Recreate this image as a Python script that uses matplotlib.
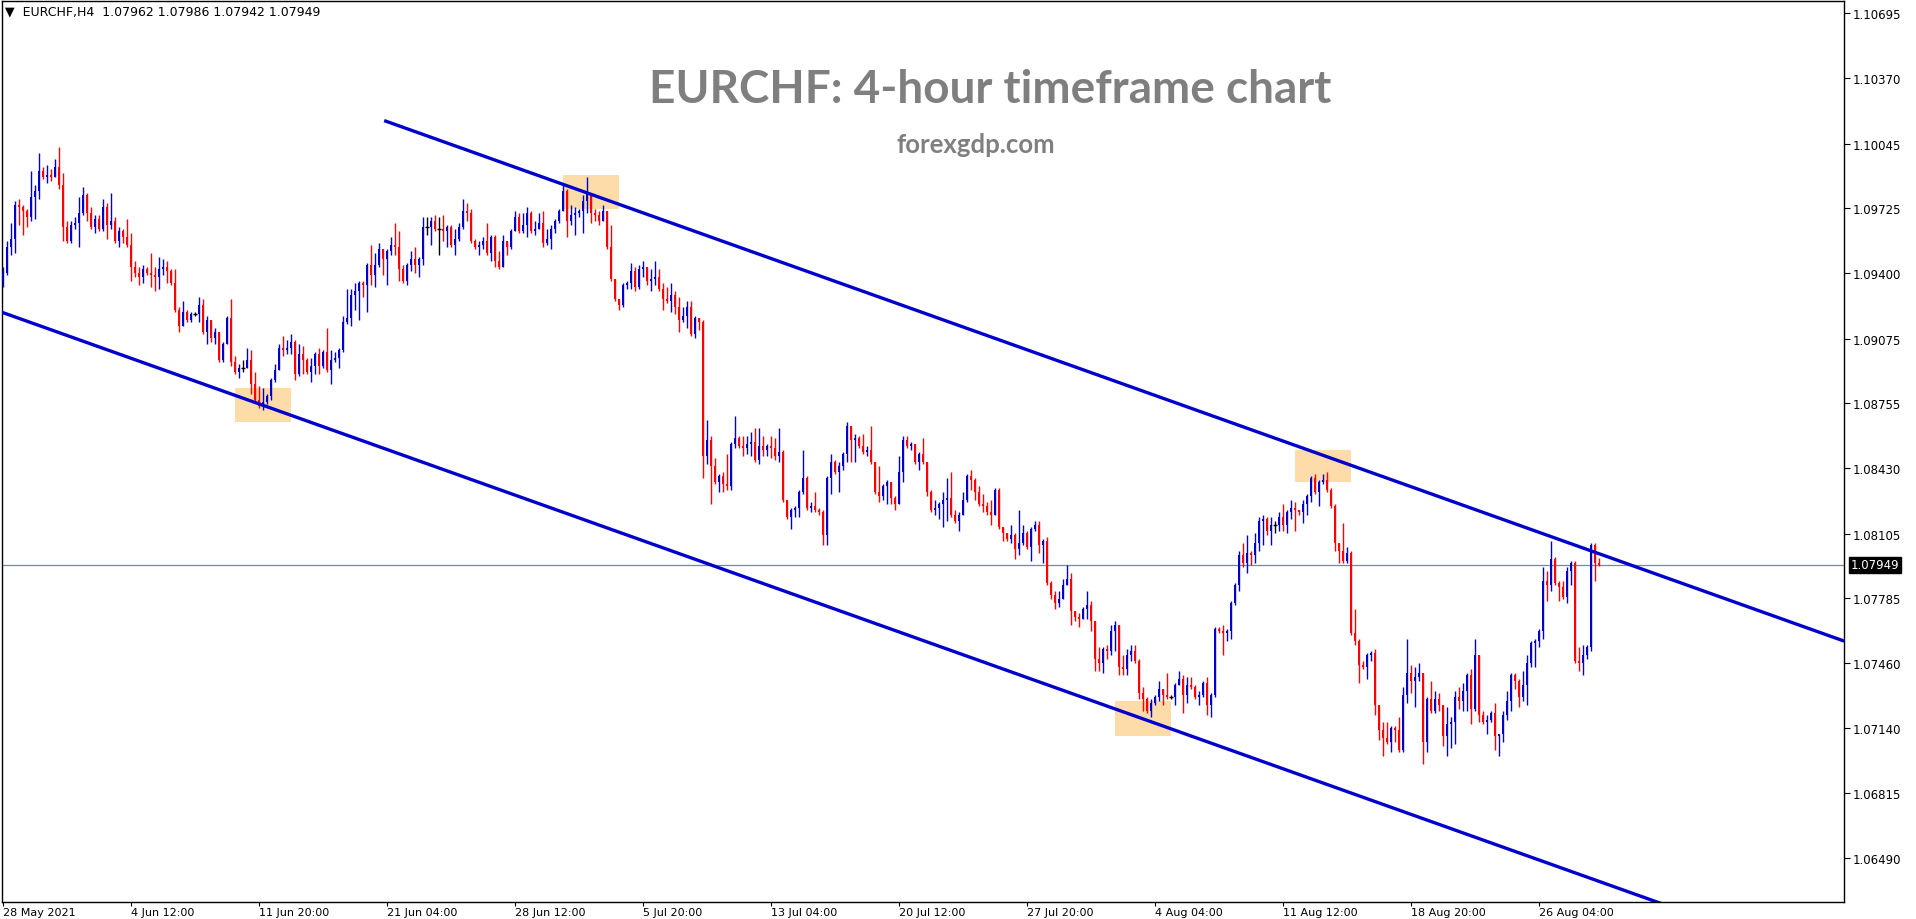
import matplotlib
matplotlib.use("Agg")
import matplotlib.pyplot as plt
import numpy as np

# EURCHF H4 candles, 28 May 2021 -> 27 Aug 2021
first_open = 1.0936

close = [
    1.0940, 1.0953, 1.0957, 1.0974, 1.0973, 1.0971, 1.0968, 1.0978, 1.0981, 1.0991,
    1.0988, 1.0989, 1.0988, 1.0993, 1.0984, 1.0963, 1.0956, 1.0964, 1.0965, 1.0970,
    1.0979, 1.0970, 1.0963, 1.0967, 1.0962, 1.0973, 1.0964, 1.0966, 1.0956, 1.0961,
    1.0958, 1.0954, 1.0943, 1.0940, 1.0938, 1.0942, 1.0940, 1.0939, 1.0938, 1.0942,
    1.0943, 1.0941, 1.0935, 1.0922, 1.0914, 1.0921, 1.0917, 1.0920, 1.0920, 1.0924,
    1.0911, 1.0917, 1.0908, 1.0911, 1.0897, 1.0905, 1.0918, 1.0896, 1.0891, 1.0893,
    1.0893, 1.0897, 1.0885, 1.0877, 1.0874, 1.0876, 1.0879, 1.0887, 1.0892, 1.0903,
    1.0902, 1.0903, 1.0906, 1.0890, 1.0900, 1.0897, 1.0891, 1.0894, 1.0900, 1.0894,
    1.0901, 1.0892, 1.0897, 1.0898, 1.0902, 1.0916, 1.0918, 1.0929, 1.0931, 1.0935,
    1.0934, 1.0944, 1.0939, 1.0944, 1.0952, 1.0947, 1.0951, 1.0954, 1.0953, 1.0942,
    1.0936, 1.0944, 1.0947, 1.0944, 1.0947, 1.0963, 1.0963, 1.0966, 1.0962, 1.0962,
    1.0961, 1.0963, 1.0954, 1.0957, 1.0963, 1.0971, 1.0970, 1.0956, 1.0953, 1.0954,
    1.0956, 1.0950, 1.0958, 1.0946, 1.0943, 1.0956, 1.0953, 1.0961, 1.0968, 1.0961,
    1.0964, 1.0970, 1.0961, 1.0962, 1.0965, 1.0955, 1.0957, 1.0962, 1.0966, 1.0971,
    1.0981, 1.0966, 1.0969, 1.0970, 1.0971, 1.0976, 1.0980, 1.0970, 1.0969, 1.0966,
    1.0971, 1.0953, 1.0937, 1.0927, 1.0924, 1.0934, 1.0935, 1.0941, 1.0933, 1.0942,
    1.0943, 1.0936, 1.0937, 1.0938, 1.0932, 1.0927, 1.0926, 1.0929, 1.0923, 1.0917,
    1.0919, 1.0923, 1.0910, 1.0918, 1.0916, 1.0849, 1.0857, 1.0844, 1.0836, 1.0839,
    1.0835, 1.0834, 1.0855, 1.0858, 1.0854, 1.0853, 1.0855, 1.0856, 1.0847, 1.0854,
    1.0852, 1.0854, 1.0853, 1.0849, 1.0851, 1.0827, 1.0819, 1.0822, 1.0823, 1.0831,
    1.0838, 1.0823, 1.0824, 1.0822, 1.0821, 1.0810, 1.0838, 1.0846, 1.0841, 1.0844,
    1.0850, 1.0864, 1.0857, 1.0858, 1.0854, 1.0851, 1.0852, 1.0846, 1.0831, 1.0829,
    1.0834, 1.0836, 1.0828, 1.0825, 1.0841, 1.0857, 1.0854, 1.0855, 1.0846, 1.0850,
    1.0846, 1.0831, 1.0822, 1.0823, 1.0825, 1.0827, 1.0828, 1.0820, 1.0817, 1.0820,
    1.0827, 1.0839, 1.0837, 1.0831, 1.0825, 1.0824, 1.0821, 1.0820, 1.0832, 1.0814,
    1.0811, 1.0808, 1.0810, 1.0803, 1.0806, 1.0811, 1.0804, 1.0813, 1.0815, 1.0805,
    1.0807, 1.0786, 1.0780, 1.0776, 1.0778, 1.0785, 1.0788, 1.0772, 1.0769, 1.0768,
    1.0773, 1.0775, 1.0767, 1.0748, 1.0746, 1.0753, 1.0752, 1.0762, 1.0765, 1.0744,
    1.0743, 1.0750, 1.0752, 1.0747, 1.0731, 1.0728, 1.0722, 1.0726, 1.0729, 1.0733,
    1.0730, 1.0729, 1.0729, 1.0735, 1.0738, 1.0730, 1.0735, 1.0734, 1.0729, 1.0730,
    1.0736, 1.0725, 1.0730, 1.0763, 1.0762, 1.0761, 1.0762, 1.0776, 1.0785, 1.0800,
    1.0796, 1.0801, 1.0800, 1.0806, 1.0817, 1.0818, 1.0812, 1.0815, 1.0815, 1.0819,
    1.0815, 1.0821, 1.0823, 1.0822, 1.0821, 1.0825, 1.0829, 1.0838, 1.0831, 1.0836,
    1.0837, 1.0832, 1.0824, 1.0806, 1.0802, 1.0797, 1.0801, 1.0761, 1.0757, 1.0745,
    1.0744, 1.0750, 1.0751, 1.0725, 1.0713, 1.0709, 1.0707, 1.0714, 1.0713, 1.0703,
    1.0730, 1.0741, 1.0737, 1.0739, 1.0741, 1.0707, 1.0728, 1.0722, 1.0728, 1.0725,
    1.0710, 1.0716, 1.0717, 1.0729, 1.0727, 1.0732, 1.0740, 1.0723, 1.0750, 1.0720,
    1.0717, 1.0718, 1.0721, 1.0710, 1.0711, 1.0720, 1.0727, 1.0740, 1.0737, 1.0729,
    1.0735, 1.0746, 1.0756, 1.0757, 1.0762, 1.0787, 1.0785, 1.0798, 1.0786, 1.0784,
    1.0779, 1.0792, 1.0796, 1.0747, 1.0746, 1.0750, 1.0754, 1.0805, 1.0796, 1.07949,
]

high = [
    1.0943, 1.0956, 1.0965, 1.0976, 1.0977, 1.0974, 1.0972, 1.0991, 1.0984, 1.1000,
    1.0993, 1.0994, 1.0992, 1.0997, 1.1003, 1.0990, 1.0966, 1.0966, 1.0968, 1.0978,
    1.0983, 1.0980, 1.0973, 1.0969, 1.0969, 1.0977, 1.0975, 1.0980, 1.0968, 1.0963,
    1.0962, 1.0967, 1.0960, 1.0946, 1.0943, 1.0944, 1.0943, 1.0950, 1.0943, 1.0948,
    1.0947, 1.0946, 1.0942, 1.0942, 1.0923, 1.0926, 1.0922, 1.0921, 1.0921, 1.0928,
    1.0927, 1.0919, 1.0917, 1.0913, 1.0911, 1.0906, 1.0919, 1.0927, 1.0899, 1.0895,
    1.0897, 1.0903, 1.0902, 1.0891, 1.0884, 1.0883, 1.0880, 1.0888, 1.0895, 1.0905,
    1.0909, 1.0907, 1.0910, 1.0907, 1.0905, 1.0904, 1.0898, 1.0898, 1.0901, 1.0903,
    1.0902, 1.0913, 1.0902, 1.0901, 1.0903, 1.0919, 1.0932, 1.0932, 1.0935, 1.0936,
    1.0936, 1.0945, 1.0954, 1.0950, 1.0955, 1.0950, 1.0952, 1.0958, 1.0965, 1.0961,
    1.0944, 1.0945, 1.0951, 1.0953, 1.0948, 1.0968, 1.0968, 1.0968, 1.0969, 1.0968,
    1.0969, 1.0964, 1.0964, 1.0962, 1.0965, 1.0977, 1.0975, 1.0972, 1.0957, 1.0956,
    1.0958, 1.0965, 1.0959, 1.0959, 1.0951, 1.0959, 1.0954, 1.0962, 1.0971, 1.0970,
    1.0970, 1.0973, 1.0971, 1.0966, 1.0970, 1.0971, 1.0962, 1.0964, 1.0967, 1.0972,
    1.0984, 1.0982, 1.0974, 1.0973, 1.0972, 1.0979, 1.0988, 1.0979, 1.0972, 1.0971,
    1.0974, 1.0971, 1.0964, 1.0937, 1.0927, 1.0935, 1.0936, 1.0945, 1.0943, 1.0944,
    1.0946, 1.0943, 1.0942, 1.0946, 1.0942, 1.0935, 1.0933, 1.0935, 1.0931, 1.0928,
    1.0923, 1.0926, 1.0926, 1.0919, 1.0918, 1.0917, 1.0867, 1.0859, 1.0848, 1.0840,
    1.0841, 1.0850, 1.0856, 1.0869, 1.0859, 1.0859, 1.0859, 1.0861, 1.0863, 1.0863,
    1.0859, 1.0855, 1.0859, 1.0858, 1.0863, 1.0852, 1.0827, 1.0823, 1.0824, 1.0832,
    1.0852, 1.0839, 1.0826, 1.0831, 1.0823, 1.0822, 1.0839, 1.0850, 1.0847, 1.0846,
    1.0851, 1.0866, 1.0864, 1.0860, 1.0859, 1.0860, 1.0854, 1.0864, 1.0846, 1.0844,
    1.0835, 1.0837, 1.0834, 1.0829, 1.0849, 1.0859, 1.0859, 1.0856, 1.0855, 1.0851,
    1.0858, 1.0846, 1.0832, 1.0827, 1.0826, 1.0831, 1.0838, 1.0841, 1.0822, 1.0821,
    1.0831, 1.0840, 1.0842, 1.0838, 1.0834, 1.0830, 1.0826, 1.0827, 1.0833, 1.0833,
    1.0814, 1.0811, 1.0815, 1.0811, 1.0822, 1.0815, 1.0812, 1.0814, 1.0817, 1.0817,
    1.0808, 1.0809, 1.0787, 1.0782, 1.0782, 1.0788, 1.0795, 1.0791, 1.0772, 1.0771,
    1.0774, 1.0782, 1.0777, 1.0767, 1.0754, 1.0754, 1.0755, 1.0765, 1.0767, 1.0765,
    1.0750, 1.0753, 1.0755, 1.0755, 1.0748, 1.0734, 1.0729, 1.0728, 1.0730, 1.0737,
    1.0733, 1.0741, 1.0730, 1.0736, 1.0742, 1.0740, 1.0739, 1.0739, 1.0735, 1.0732,
    1.0737, 1.0739, 1.0731, 1.0764, 1.0764, 1.0765, 1.0763, 1.0777, 1.0786, 1.0802,
    1.0806, 1.0810, 1.0802, 1.0811, 1.0819, 1.0820, 1.0819, 1.0819, 1.0817, 1.0821,
    1.0825, 1.0822, 1.0827, 1.0826, 1.0822, 1.0827, 1.0830, 1.0839, 1.0840, 1.0837,
    1.0840, 1.0841, 1.0833, 1.0825, 1.0806, 1.0816, 1.0804, 1.0802, 1.0773, 1.0758,
    1.0747, 1.0751, 1.0752, 1.0753, 1.0725, 1.0717, 1.0717, 1.0715, 1.0715, 1.0719,
    1.0734, 1.0758, 1.0745, 1.0744, 1.0746, 1.0741, 1.0729, 1.0737, 1.0732, 1.0731,
    1.0725, 1.0724, 1.0719, 1.0732, 1.0734, 1.0736, 1.0741, 1.0743, 1.0758, 1.0750,
    1.0722, 1.0720, 1.0722, 1.0726, 1.0711, 1.0722, 1.0732, 1.0741, 1.0741, 1.0738,
    1.0742, 1.0750, 1.0757, 1.0758, 1.0763, 1.0794, 1.0792, 1.0807, 1.0799, 1.0787,
    1.0787, 1.0794, 1.0797, 1.0797, 1.0754, 1.0755, 1.0755, 1.0806, 1.0806, 1.07986,
]

low = [
    1.0933, 1.0939, 1.0949, 1.0950, 1.0964, 1.0959, 1.0963, 1.0966, 1.0967, 1.0977,
    1.0987, 1.0985, 1.0986, 1.0988, 1.0982, 1.0956, 1.0955, 1.0955, 1.0962, 1.0953,
    1.0969, 1.0966, 1.0962, 1.0960, 1.0961, 1.0961, 1.0957, 1.0962, 1.0955, 1.0953,
    1.0955, 1.0953, 1.0936, 1.0938, 1.0934, 1.0935, 1.0939, 1.0933, 1.0931, 1.0932,
    1.0939, 1.0935, 1.0934, 1.0921, 1.0911, 1.0914, 1.0916, 1.0916, 1.0919, 1.0916,
    1.0910, 1.0905, 1.0906, 1.0905, 1.0896, 1.0896, 1.0905, 1.0894, 1.0890, 1.0888,
    1.0891, 1.0893, 1.0880, 1.0876, 1.0873, 1.0872, 1.0875, 1.0877, 1.0886, 1.0892,
    1.0899, 1.0900, 1.0900, 1.0887, 1.0889, 1.0890, 1.0890, 1.0886, 1.0890, 1.0890,
    1.0893, 1.0891, 1.0885, 1.0896, 1.0893, 1.0901, 1.0915, 1.0914, 1.0922, 1.0917,
    1.0928, 1.0921, 1.0934, 1.0933, 1.0943, 1.0939, 1.0934, 1.0949, 1.0949, 1.0936,
    1.0935, 1.0934, 1.0941, 1.0940, 1.0938, 1.0944, 1.0959, 1.0954, 1.0961, 1.0949,
    1.0956, 1.0953, 1.0953, 1.0949, 1.0956, 1.0962, 1.0966, 1.0955, 1.0952, 1.0949,
    1.0952, 1.0949, 1.0946, 1.0943, 1.0942, 1.0946, 1.0949, 1.0952, 1.0961, 1.0960,
    1.0960, 1.0958, 1.0960, 1.0959, 1.0962, 1.0953, 1.0954, 1.0952, 1.0960, 1.0965,
    1.0971, 1.0958, 1.0964, 1.0959, 1.0968, 1.0960, 1.0970, 1.0965, 1.0966, 1.0964,
    1.0966, 1.0952, 1.0936, 1.0926, 1.0922, 1.0923, 1.0932, 1.0932, 1.0931, 1.0932,
    1.0938, 1.0934, 1.0931, 1.0934, 1.0931, 1.0922, 1.0925, 1.0921, 1.0920, 1.0911,
    1.0916, 1.0913, 1.0909, 1.0908, 1.0912, 1.0838, 1.0845, 1.0825, 1.0835, 1.0831,
    1.0831, 1.0832, 1.0832, 1.0853, 1.0853, 1.0849, 1.0850, 1.0849, 1.0846, 1.0845,
    1.0849, 1.0849, 1.0848, 1.0847, 1.0846, 1.0826, 1.0818, 1.0813, 1.0819, 1.0819,
    1.0830, 1.0822, 1.0821, 1.0821, 1.0820, 1.0805, 1.0805, 1.0830, 1.0840, 1.0831,
    1.0842, 1.0846, 1.0846, 1.0846, 1.0853, 1.0850, 1.0849, 1.0845, 1.0830, 1.0826,
    1.0827, 1.0825, 1.0825, 1.0822, 1.0825, 1.0836, 1.0853, 1.0852, 1.0845, 1.0842,
    1.0845, 1.0829, 1.0821, 1.0820, 1.0818, 1.0814, 1.0817, 1.0819, 1.0816, 1.0812,
    1.0821, 1.0826, 1.0832, 1.0827, 1.0824, 1.0821, 1.0820, 1.0815, 1.0820, 1.0813,
    1.0807, 1.0807, 1.0806, 1.0798, 1.0800, 1.0805, 1.0803, 1.0797, 1.0812, 1.0801,
    1.0796, 1.0785, 1.0778, 1.0773, 1.0774, 1.0778, 1.0785, 1.0765, 1.0767, 1.0764,
    1.0768, 1.0768, 1.0762, 1.0742, 1.0742, 1.0741, 1.0748, 1.0750, 1.0752, 1.0740,
    1.0740, 1.0740, 1.0747, 1.0746, 1.0728, 1.0722, 1.0721, 1.0719, 1.0725, 1.0727,
    1.0725, 1.0728, 1.0728, 1.0725, 1.0735, 1.0721, 1.0726, 1.0733, 1.0728, 1.0725,
    1.0729, 1.0720, 1.0719, 1.0729, 1.0761, 1.0750, 1.0757, 1.0758, 1.0775, 1.0782,
    1.0794, 1.0791, 1.0795, 1.0796, 1.0802, 1.0805, 1.0810, 1.0805, 1.0811, 1.0812,
    1.0812, 1.0811, 1.0818, 1.0812, 1.0820, 1.0816, 1.0820, 1.0826, 1.0830, 1.0824,
    1.0835, 1.0831, 1.0823, 1.0802, 1.0796, 1.0796, 1.0796, 1.0760, 1.0755, 1.0736,
    1.0743, 1.0738, 1.0747, 1.0720, 1.0708, 1.0700, 1.0706, 1.0702, 1.0707, 1.0702,
    1.0702, 1.0726, 1.0731, 1.0724, 1.0737, 1.0696, 1.0702, 1.0721, 1.0721, 1.0722,
    1.0705, 1.0700, 1.0704, 1.0706, 1.0723, 1.0722, 1.0722, 1.0716, 1.0722, 1.0717,
    1.0716, 1.0711, 1.0717, 1.0703, 1.0700, 1.0707, 1.0718, 1.0722, 1.0733, 1.0724,
    1.0727, 1.0725, 1.0744, 1.0744, 1.0754, 1.0758, 1.0777, 1.0782, 1.0785, 1.0777,
    1.0778, 1.0776, 1.0785, 1.0746, 1.0742, 1.0740, 1.0748, 1.0752, 1.0787, 1.07942,
]

# time axis labels every 32 bars
tick_bars = [0, 32, 64, 96, 128, 160, 192, 224, 256, 288, 320, 352, 384]
tick_labels = ["28 May 2021", "4 Jun 12:00", "11 Jun 20:00", "21 Jun 04:00",
               "28 Jun 12:00", "5 Jul 20:00", "13 Jul 04:00", "20 Jul 12:00",
               "27 Jul 20:00", "4 Aug 04:00", "11 Aug 12:00", "18 Aug 20:00",
               "26 Aug 04:00"]
price_ticks = [1.10695, 1.10370, 1.10045, 1.09725, 1.09400, 1.09075, 1.08755,
               1.08430, 1.08105, 1.07785, 1.07460, 1.07140, 1.06815, 1.06490]
last_price = 1.07949

# channel lines (bar index, price)
upper_line = [(95.3, 1.1016), (460.3, 1.0757)]
lower_line = [(-0.8, 1.0921), (460.3, 1.0594)]

# highlighted touch points: (bar from, bar to, price low, price high)
touch_boxes = [(58, 72, 1.0866, 1.0883),
               (140, 154, 1.0972, 1.0989),
               (278, 292, 1.0710, 1.0727),
               (323, 337, 1.0836, 1.0852)]

blue = '#0000CD'
red = '#FF0000'

o = np.array([first_open] + close[:-1])
c = np.array(close)
h = np.maximum(np.array(high), np.maximum(o, c))
l = np.minimum(np.array(low), np.minimum(o, c))
x = np.arange(len(c))

fig = plt.figure(figsize=(19.16, 9.2), dpi=100)
ax = fig.add_axes([2/1916, 17/920, 1842/1916, 901/920])

for (b0, b1, p0, p1) in touch_boxes:
    ax.fill_between([b0, b1], p0, p1, color='#FDDCAA', lw=0, zorder=1)

ax.axhline(last_price, color='#778899', lw=0.9, zorder=2)

up = c > o
dn = c < o
eq = c == o
wick_col = np.where(up, blue, np.where(dn, red, 'black'))
ax.vlines(x, l, h, colors=wick_col, lw=1.0, zorder=3)
ax.bar(x[up], c[up] - o[up], bottom=o[up], width=0.72, color=blue, lw=0, zorder=4)
ax.bar(x[dn], c[dn] - o[dn], bottom=o[dn], width=0.72, color=red, lw=0, zorder=4)
ax.hlines(c[eq], x[eq] - 0.4, x[eq] + 0.4, colors='black', lw=1.0, zorder=4)

for line in (upper_line, lower_line):
    xs, ys = zip(*line)
    ax.plot(xs, ys, color=blue, lw=2.4, zorder=5, solid_capstyle='butt')

ax.set_xlim(-0.25, 460.25)
ax.set_ylim(1.06272, 1.10755)

ax.yaxis.tick_right()
ax.set_yticks(price_ticks)
ax.set_yticklabels(['%.5f' % p for p in price_ticks])
ax.set_xticks(tick_bars)
ax.set_xticklabels(tick_labels, ha='left')
ax.tick_params(axis='y', direction='out', length=4, width=0.8, labelsize=8.5,
               colors='black', pad=2)
ax.tick_params(axis='x', direction='out', length=3, width=0.8, labelsize=8,
               colors='black', pad=0.5)
for s in ax.spines.values():
    s.set_color('black')
    s.set_linewidth(1.0)

ax.annotate('%.5f' % last_price, xy=(1.0, last_price), xycoords=('axes fraction', 'data'),
            xytext=(5, 0), textcoords='offset points', ha='left', va='center',
            fontsize=8.5, color='white',
            bbox=dict(boxstyle='square,pad=0.15', fc='black', ec='black'))

fig.text(5/1916, 1 - 12/920, u"\u25bc  EURCHF,H4  1.07962 1.07986 1.07942 1.07949",
         fontsize=9, va='center', ha='left', color='black')

fig.text(990/1916, 1 - 90/920, "EURCHF: 4-hour timeframe chart", fontsize=33,
         fontweight='bold', color='#7F7F7F', family='Lato', ha='center', va='center')
fig.text(976/1916, 1 - 145/920, "forexgdp.com", fontsize=18.5,
         fontweight='bold', color='#7F7F7F', family='Lato', ha='center', va='center')

fig.savefig('out.png', dpi=100, facecolor='white')
